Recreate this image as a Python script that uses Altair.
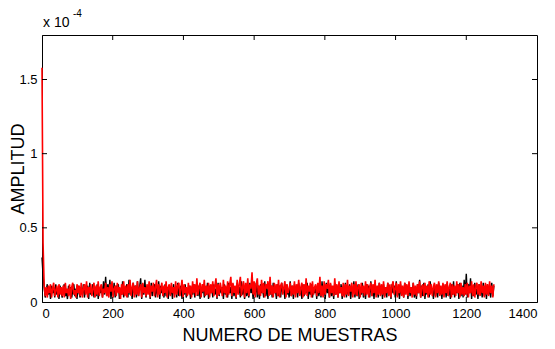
import altair as alt
import pandas as pd

# amplitude values in units of 1e-6, one every 3 samples (0..1278)
step = 3
red_vals = [
    158, 40, 12, 4, 10, 3, 11, 6, 12, 3, 9, 13, 4, 8, 11, 3, 12, 5, 10, 4,
    11, 3, 13, 6, 9, 4, 12, 2, 10, 13, 5, 8, 3, 12, 6, 11, 4, 13, 3, 9,
    12, 5, 14, 3, 10, 6, 12, 4, 9, 13, 3, 11, 5, 14, 4, 10, 12, 3, 9, 6,
    13, 4, 10, 3, 12, 7, 14, 3, 9, 11, 4, 13, 6, 10, 2, 12, 5, 14, 4, 11,
    3, 12, 6, 15, 4, 10, 13, 3, 11, 5, 14, 4, 9, 12, 3, 13, 6, 10, 4, 12,
    5, 14, 3, 11, 7, 13, 4, 10, 15, 3, 12, 5, 9, 13, 4, 11, 6, 14, 3, 10,
    12, 4, 13, 6, 10, 3, 14, 5, 11, 13, 4, 9, 15, 3, 12, 6, 10, 4, 13, 5,
    11, 3, 14, 6, 12, 4, 16, 5, 10, 13, 3, 12, 7, 15, 4, 11, 5, 13, 3, 12,
    6, 14, 4, 11, 16, 3, 12, 5, 13, 9, 4, 15, 6, 11, 3, 14, 5, 12, 17, 4,
    13, 6, 11, 3, 15, 5, 12, 17, 4, 10, 14, 3, 13, 6, 16, 4, 12, 9, 20, 5,
    14, 3, 12, 16, 5, 11, 4, 15, 6, 13, 3, 12, 9, 14, 4, 17, 5, 11, 3, 13,
    6, 12, 4, 15, 3, 11, 13, 5, 10, 14, 3, 12, 6, 9, 13, 4, 11, 5, 14, 3,
    12, 6, 15, 4, 10, 13, 3, 12, 5, 16, 4, 11, 7, 13, 3, 14, 5, 10, 12, 4,
    13, 6, 17, 4, 11, 3, 14, 5, 12, 9, 15, 3, 13, 6, 11, 4, 16, 5, 12, 3,
    14, 6, 10, 4, 13, 3, 12, 5, 15, 4, 11, 7, 13, 3, 12, 5, 14, 4, 10, 12,
    3, 13, 6, 11, 4, 14, 5, 12, 3, 10, 13, 4, 12, 6, 15, 3, 11, 5, 13, 4,
    12, 5, 14, 3, 10, 6, 13, 4, 12, 3, 11, 14, 5, 9, 13, 3, 12, 6, 14, 4,
    11, 3, 13, 5, 12, 4, 14, 6, 10, 3, 13, 5, 11, 4, 12, 6, 14, 3, 10, 12,
    4, 13, 6, 11, 3, 14, 5, 12, 4, 10, 13, 3, 12, 6, 14, 4, 11, 5, 13, 3,
    12, 6, 14, 4, 10, 13, 3, 12, 5, 11, 4, 14, 6, 12, 3, 13, 5, 10, 4, 12,
    5, 13, 3, 11, 6, 14, 4, 12, 3, 10, 13, 5, 12, 4, 14, 6, 11, 3, 13, 5,
    12, 4, 14, 6, 11, 3, 12,
]
black_vals = [
    30, 18, 10, 3, 8, 12, 5, 9, 2, 11, 6, 10, 3, 12, 5, 8, 2, 11, 7, 3,
    9, 12, 4, 7, 2, 11, 5, 10, 3, 8, 12, 4, 9, 2, 11, 6, 3, 10, 5, 12,
    3, 9, 6, 11, 2, 13, 5, 8, 12, 3, 10, 4, 12, 2, 9, 6, 11, 3, 14, 5,
    17, 4, 12, 6, 15, 2, 10, 5, 13, 3, 11, 7, 12, 2, 9, 5, 14, 3, 10, 6,
    12, 3, 15, 5, 9, 2, 13, 6, 11, 3, 14, 4, 10, 16, 2, 12, 5, 15, 3, 9,
    6, 11, 2, 13, 4, 9, 12, 3, 10, 5, 14, 2, 11, 6, 9, 3, 12, 4, 10, 2,
    11, 5, 9, 2, 12, 6, 10, 3, 13, 4, 8, 11, 2, 10, 5, 12, 3, 9, 6, 11,
    2, 10, 5, 12, 3, 9, 13, 4, 11, 2, 10, 6, 12, 3, 9, 5, 13, 2, 11, 6,
    10, 3, 12, 5, 9, 2, 13, 4, 11, 6, 10, 2, 12, 5, 9, 3, 13, 6, 10, 2,
    12, 4, 9, 2, 13, 6, 10, 3, 14, 5, 11, 2, 12, 4, 9, 3, 13, 6, 11, 2,
    10, 5, 13, 3, 11, 2, 12, 6, 9, 3, 14, 4, 10, 2, 12, 5, 11, 3, 13, 6,
    9, 2, 12, 4, 11, 3, 13, 6, 10, 2, 12, 5, 9, 3, 14, 4, 11, 2, 12, 6,
    10, 3, 13, 5, 9, 2, 12, 4, 11, 6, 13, 2, 10, 5, 12, 3, 9, 6, 11, 2,
    12, 4, 10, 3, 14, 5, 11, 2, 13, 6, 9, 3, 12, 4, 10, 2, 13, 5, 11, 3,
    9, 6, 12, 2, 11, 4, 13, 3, 10, 5, 12, 2, 9, 6, 14, 3, 11, 4, 12, 2,
    10, 5, 13, 3, 9, 2, 12, 6, 11, 3, 14, 4, 10, 2, 12, 5, 9, 3, 13, 6,
    11, 2, 12, 4, 10, 3, 13, 5, 9, 2, 12, 6, 11, 3, 14, 4, 10, 2, 12, 5,
    9, 3, 13, 6, 11, 2, 12, 4, 10, 5, 13, 3, 9, 2, 12, 6, 15, 3, 11, 4,
    13, 2, 10, 5, 12, 3, 14, 6, 9, 2, 12, 4, 11, 3, 13, 5, 10, 2, 12, 6,
    11, 3, 13, 4, 9, 2, 12, 5, 14, 3, 10, 6, 12, 2, 13, 4, 11, 3, 15, 5,
    19, 3, 12, 6, 16, 2, 11, 4, 13, 5, 9, 2, 12, 6, 10, 3, 13, 4, 11, 2,
    12, 5, 9, 3, 13, 4, 11,
]
x_ticks = [0, 200, 400, 600, 800, 1000, 1200, 1400]
y_ticks = [0, 0.5, 1, 1.5]

W, H = 495, 267
FONT = "Liberation Sans"

red_df = pd.DataFrame({"n": [i * step for i in range(len(red_vals))],
                       "a": [v / 100 for v in red_vals]})
black_df = pd.DataFrame({"n": [i * step for i in range(len(black_vals))],
                         "a": [v / 100 for v in black_vals]})

xs = alt.Scale(domain=[0, 1400], nice=False, zero=False)
ys = alt.Scale(domain=[0, 1.8], nice=False)

xaxis = alt.Axis(values=x_ticks, ticks=False, grid=False, labelExpr="datum.value",
                 labelFont=FONT, labelFontSize=13, labelColor="#000", labelPadding=5,
                 title="NUMERO DE MUESTRAS", titleFont=FONT, titleFontSize=18,
                 titleFontWeight="normal", titleColor="#000", titlePadding=6,
                 domainColor="#000")
yaxis = alt.Axis(values=y_ticks, ticks=False, grid=False, labelExpr="datum.value",
                 labelFont=FONT, labelFontSize=13, labelColor="#000", labelPadding=5,
                 title="AMPLITUD", titleFont=FONT, titleFontSize=18,
                 titleFontWeight="normal", titleColor="#000",
                 titleAngle=270, titleAlign="center", titleBaseline="middle",
                 titleX=-24, titleY=H / 2,
                 domainColor="#000")

black = alt.Chart(black_df).mark_line(color="#000000", strokeWidth=1.4).encode(
    x=alt.X("n:Q", scale=xs, axis=xaxis),
    y=alt.Y("a:Q", scale=ys, axis=yaxis),
)
red = alt.Chart(red_df).mark_line(color="#ff0000", strokeWidth=1.6).encode(
    x=alt.X("n:Q", scale=xs),
    y=alt.Y("a:Q", scale=ys),
)

xt_df = pd.DataFrame({"t": x_ticks[1:-1]})
yt_df = pd.DataFrame({"t": y_ticks[1:]})
xt_bottom = alt.Chart(xt_df).mark_rule(color="#000").encode(
    x=alt.X("t:Q", scale=xs), y=alt.value(H), y2=alt.value(H - 5))
xt_top = alt.Chart(xt_df).mark_rule(color="#000").encode(
    x=alt.X("t:Q", scale=xs), y=alt.value(0), y2=alt.value(5))
yt_left = alt.Chart(yt_df).mark_rule(color="#000").encode(
    y=alt.Y("t:Q", scale=ys), x=alt.value(0), x2=alt.value(5))
yt_right = alt.Chart(yt_df).mark_rule(color="#000").encode(
    y=alt.Y("t:Q", scale=ys), x=alt.value(W - 5), x2=alt.value(W))

mult = alt.Chart(pd.DataFrame({"s": ["x 10"]})).mark_text(
    align="left", baseline="alphabetic", font=FONT, fontSize=14, color="#000"
).encode(text="s:N", x=alt.value(1), y=alt.value(-8))
expo = alt.Chart(pd.DataFrame({"s": ["-4"]})).mark_text(
    align="left", baseline="alphabetic", font=FONT, fontSize=10, color="#000"
).encode(text="s:N", x=alt.value(31), y=alt.value(-18))

chart = alt.layer(black, red, xt_bottom, xt_top, yt_left, yt_right, mult, expo).properties(
    width=W, height=H,
    autosize=alt.AutoSizeParams(type="none"),
    padding={"left": 42, "top": 35, "right": 18, "bottom": 47},
    background="white",
).configure_view(stroke="#000", strokeWidth=1)

chart.save("out.html", embed_options={"renderer": "svg", "actions": False})
